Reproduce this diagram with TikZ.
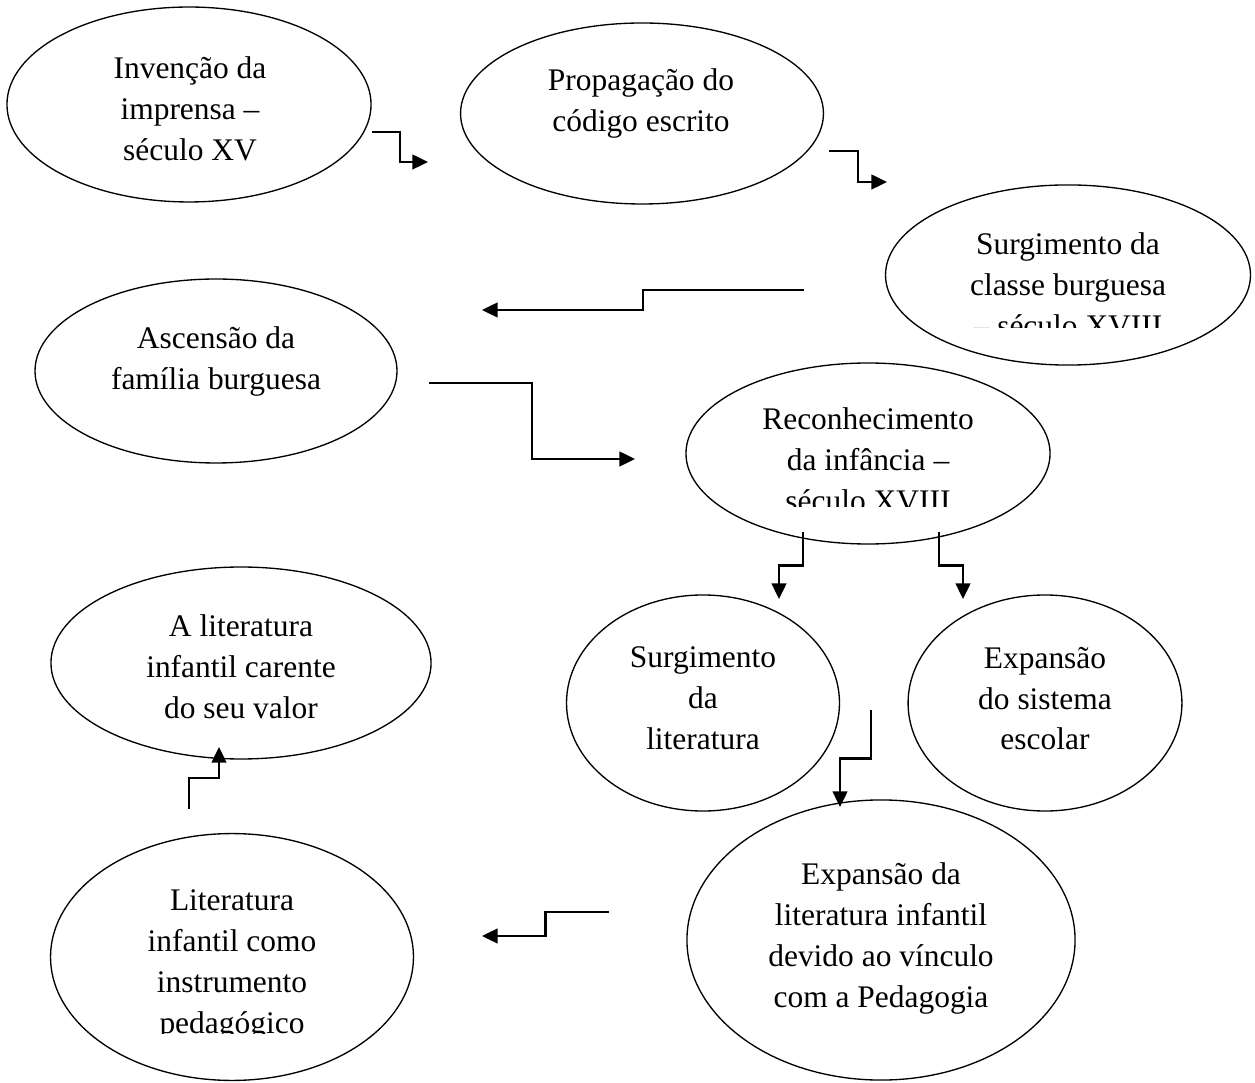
\documentclass[tikz,border=0pt]{standalone}
\usepackage{fontspec}
\setmainfont{Liberation Serif}
\usetikzlibrary{shapes.geometric,arrows.meta,calc}
\begin{document}
\begin{tikzpicture}[x=0.337pt,y=-0.337pt]
	\tikzset{bubble/.style = {shape=ellipse,draw,line width=.45pt,inner sep=0pt}}
	\tikzset{txt/.style = {anchor=north,align=center,inner sep=0pt,font=\fontsize{10.6}{13.8}\selectfont,execute at begin node=\strut}}
	\tikzset{arr/.style = {-{Triangle[length=5.3pt,width=5pt]},line width=.7pt}}
	\tikzset{hvh/.style = {to path={-| ($(\tikztostart)!.5!(\tikztotarget)$) |- (\tikztotarget)}}}
	\tikzset{vhv/.style = {to path={|- ($(\tikztostart)!.5!(\tikztotarget)$) -| (\tikztotarget)}}}
	\useasboundingbox (0,0) rectangle (1255,1083);
	% bubbles
	\node[bubble,minimum width=122.7pt,minimum height=65.7pt] (inv) at (189,104.5) {};
	\node[bubble,minimum width=122.3pt,minimum height=61pt] (prop) at (642,113.5) {};
	\node[bubble,minimum width=123pt,minimum height=60.7pt] (burg) at (1068,275) {};
	\node[bubble,minimum width=122pt,minimum height=62pt] (fam) at (216,371) {};
	\node[bubble,minimum width=122.7pt,minimum height=61pt] (inf) at (868,453.5) {};
	\node[bubble,minimum width=92pt,minimum height=72.8pt] (lit) at (703,703) {};
	\node[bubble,minimum width=92.3pt,minimum height=72.8pt] (esc) at (1045,703) {};
	\node[bubble,minimum width=130.8pt,minimum height=94.4pt] (ped) at (881,940) {};
	\node[bubble,minimum width=128.1pt,minimum height=64.7pt] (val) at (241,663) {};
	\node[bubble,minimum width=122.3pt,minimum height=83.2pt] (instr) at (232,957) {};
	% texts
	\node[txt] (inv-t) at (190,56.3) {Invenção da\\imprensa –\\século XV};
	\node[txt] (prop-t) at (641,68.3) {Propagação do\\código escrito};
	\begin{scope}
		\clip (880,180) rectangle (1255,328);
		\node[txt] (burg-t) at (1068,232.3) {Surgimento da\\classe burguesa\\– século XVIII};
	\end{scope}
	\node[txt] (fam-t) at (216,326.3) {Ascensão da\\família burguesa};
	\begin{scope}
		\clip (680,360) rectangle (1055,507);
		\node[txt] (inf-t) at (868,407.3) {Reconhecimento\\da infância –\\século XVIII};
	\end{scope}
	\node[txt] (lit-t) at (703,646.3) {Surgimento\\da\\literatura};
	\node[txt] (esc-t) at (1045,646.3) {Expansão\\do sistema\\escolar};
	\node[txt] (ped-t) at (881,862.3) {Expansão da\\literatura infantil\\devido ao vínculo\\com a Pedagogia};
	\node[txt] (val-t) at (241,614.3) {A literatura\\infantil carente\\do seu valor};
	\begin{scope}
		\clip (45,830) rectangle (420,1033);
		\node[txt] (instr-t) at (232,889.3) {Literatura\\infantil como\\instrumento\\pedagógico};
	\end{scope}
	% arrow ends
	\coordinate (a1s) at (372,132); \coordinate (a1t) at (428,162);
	\coordinate (a2s) at (829,151); \coordinate (a2t) at (887,182);
	\coordinate (a3s) at (804,290); \coordinate (a3t) at (482,310);
	\coordinate (a4s) at (429,383); \coordinate (a4t) at (635,459);
	\coordinate (a5s) at (803,532); \coordinate (a5t) at (779,599);
	\coordinate (a6s) at (939,532); \coordinate (a6t) at (963,599);
	\coordinate (a7s) at (871,710); \coordinate (a7t) at (840,807);
	\coordinate (a8s) at (609,912); \coordinate (a8t) at (482,936);
	\coordinate (a9s) at (189,809); \coordinate (a9t) at (219,747);
	\draw[arr] (a1s) to[hvh] (a1t);
	\draw[arr] (a2s) to[hvh] (a2t);
	\draw[arr] (a3s) to[hvh] (a3t);
	\draw[arr] (a4s) to[hvh] (a4t);
	\draw[arr] (a5s) to[vhv] (a5t);
	\draw[arr] (a6s) to[vhv] (a6t);
	\draw[arr] (a7s) to[vhv] (a7t);
	\draw[arr] (a8s) to[hvh] (a8t);
	\draw[arr] (a9s) to[vhv] (a9t);
\end{tikzpicture}
\end{document}
